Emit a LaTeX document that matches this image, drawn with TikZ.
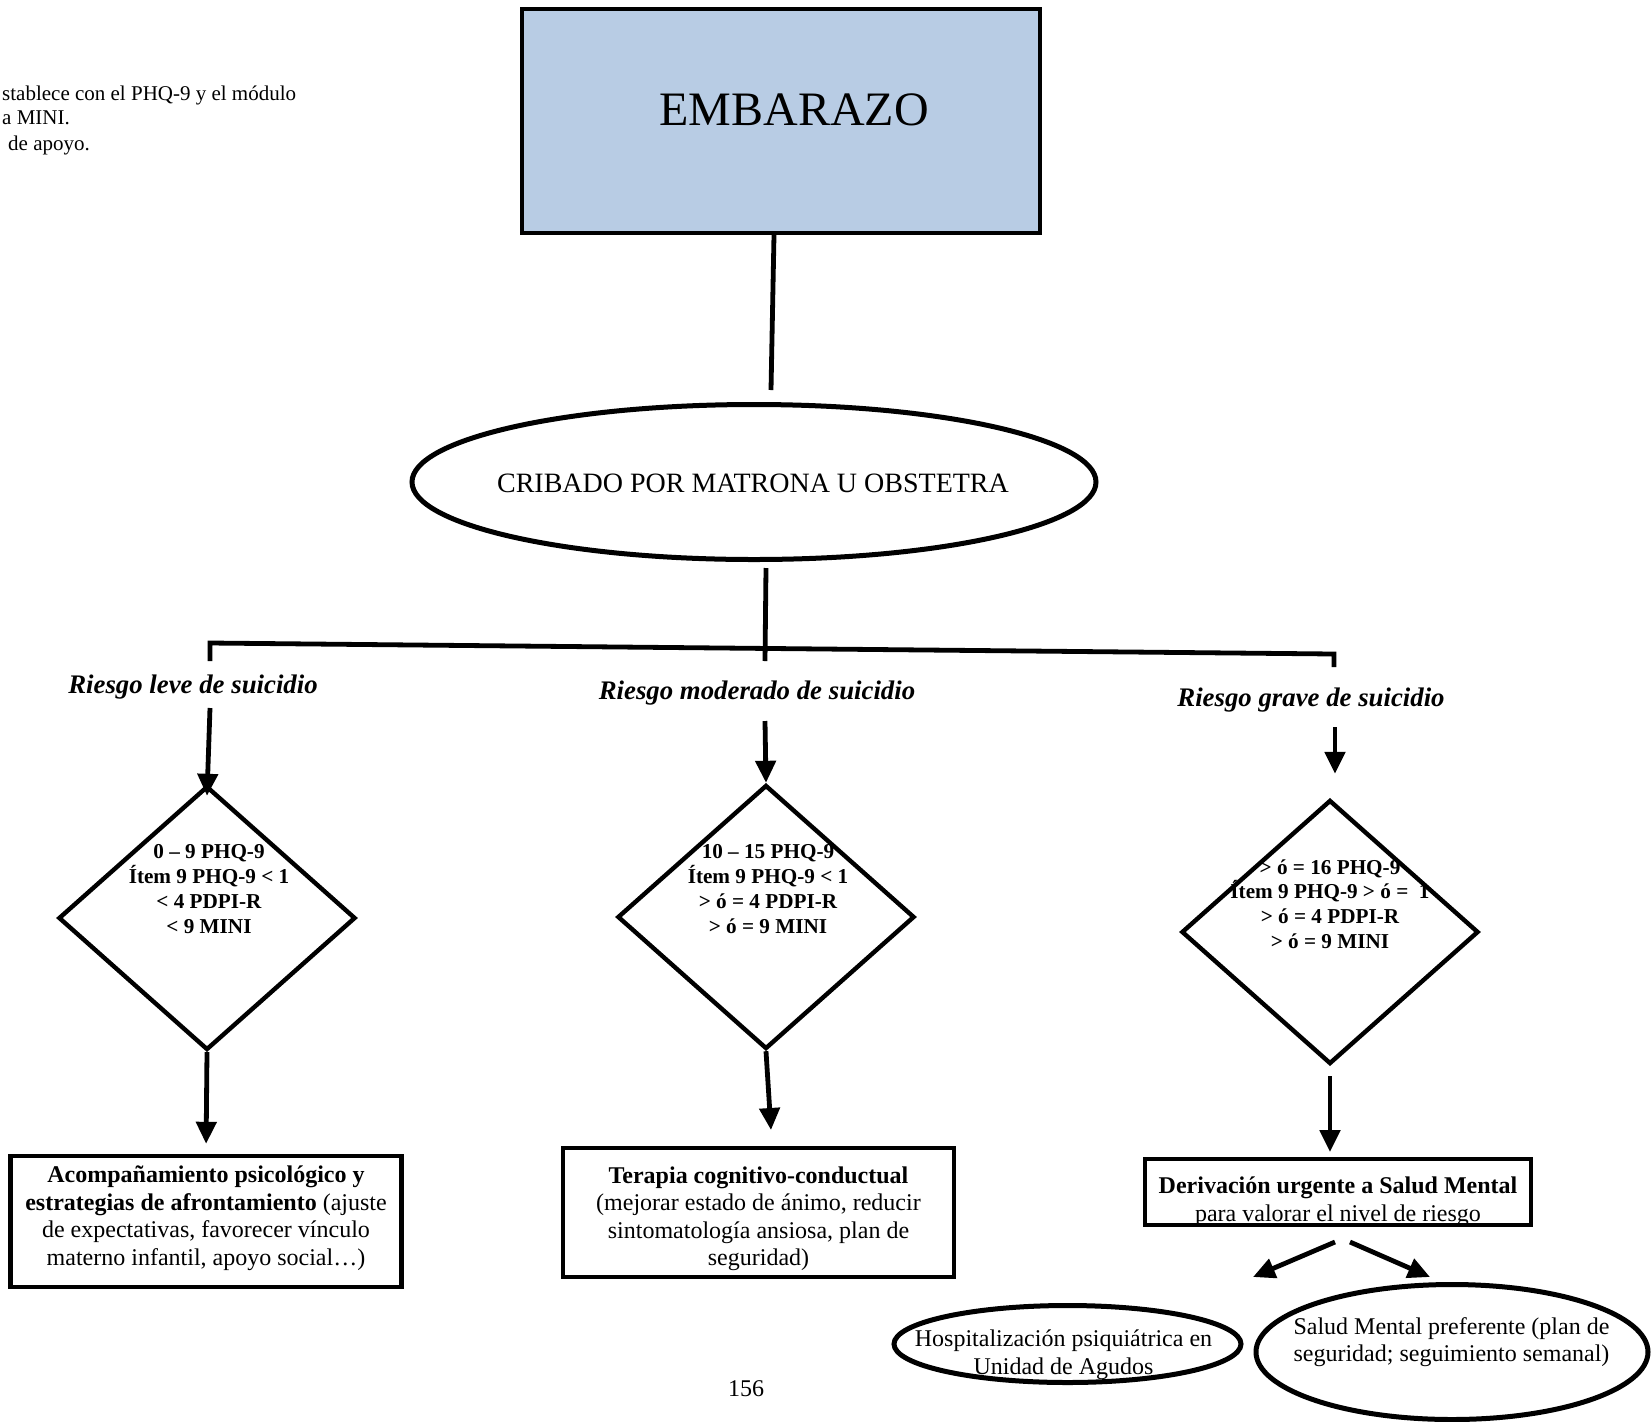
\documentclass[tikz,border=0pt]{standalone}
\usepackage{fontspec}
\setmainfont{Liberation Serif}
\usetikzlibrary{shapes.geometric,arrows.meta}
\definecolor{embblue}{HTML}{B8CCE4}
\begin{document}
\begin{tikzpicture}[x={(0.5pt,0)},y={(0,-0.5pt)},
  line width=2.2pt,
  conn/.style={line width=2.4pt},
  arr/.style={conn,-{Triangle[length=11pt,width=10pt]}},
  box/.style={draw,rectangle,inner sep=0pt,align=center},
  txt/.style={font=\fontsize{12}{13.8}\selectfont,align=center,inner sep=0pt},
  small/.style={font=\fontsize{10.5}{12.5}\selectfont,inner sep=0pt},
  crit/.style={font=\bfseries\fontsize{10.6}{12.4}\selectfont,align=center,inner sep=0pt},
  rlab/.style={font=\bfseries\itshape\fontsize{13.4}{15}\selectfont,inner sep=0pt},
  dia/.style={draw,diamond,inner sep=0pt,minimum width=148.5pt,minimum height=132pt},
  ell/.style={draw,ellipse,inner sep=0pt,line width=2.5pt}]
\useasboundingbox (0,0) rectangle (1651,1421);

% top-left cut text
\node[small,anchor=base west] (n1) at (0,100) {stablece con el PHQ-9 y el módulo};
\node[small,anchor=base west] (n2) at (0,124) {a MINI.};
\node[small,anchor=base west] (n3) at (6,150) {de apoyo.};

% EMBARAZO
\node[box,fill=embblue,minimum width=259pt,minimum height=111.75pt] (emb) at (781,121) {};
\node[font=\fontsize{24}{28}\selectfont,inner sep=0pt] (embt) at (794,110) {EMBARAZO};

% Cribado
\node[ell,minimum width=342pt,minimum height=77.5pt] (crib) at (754,482) {};
\node[font=\fontsize{14}{16}\selectfont,inner sep=0pt] (cribt) at (753,483) {CRIBADO POR MATRONA U OBSTETRA};

\coordinate (c0) at (771,390);
\draw[conn] ([xshift=-3.5pt]emb.south) -- (c0);

% bar
\coordinate (b0) at (765,661);
\draw[conn] ([xshift=6pt,yshift=-3pt]crib.south) -- (b0);
\coordinate (bl0) at (210,661);
\coordinate (bl) at (210,643);
\coordinate (br) at (1334,654);
\coordinate (br0) at (1334,667);
\draw[conn] (bl0) -- (bl) -- (br) -- (br0);

% labels
\node[rlab] (l1) at (193,687) {Riesgo leve de suicidio};
\node[rlab] (l2) at (757,693) {Riesgo moderado de suicidio};
\node[rlab] (l3) at (1311,700) {Riesgo grave de suicidio};

% diamonds
\node[dia] (d1) at (207,918) {};
\node[dia] (d2) at (766,917) {};
\node[dia] (d3) at (1330,932) {};
\node[crit] (d1t) at (209,889) {0 – 9 PHQ-9\\Ítem 9 PHQ-9 < 1\\< 4 PDPI-R\\< 9 MINI};
\node[crit] (d2t) at (768,889) {10 – 15 PHQ-9\\Ítem 9 PHQ-9 < 1\\> ó = 4 PDPI-R\\> ó = 9 MINI};
\node[crit] (d3t) at (1330,904) {> ó = 16 PHQ-9\\Ítem 9 PHQ-9 > ó =~ 1\\> ó = 4 PDPI-R\\> ó = 9 MINI};

\coordinate (a1) at (210,708);
\coordinate (a2) at (765,721);
\coordinate (a3) at (1335,727);
\draw[arr] (a1) -- ([yshift=-6pt]d1.north);
\draw[arr] (a2) -- (d2.north);
\draw[arr,shorten >=12pt] (a3) -- (a3 |- d3.north);

% boxes
\node[txt] (b1t) at (206,1218.3)
  {\textbf{Acompañamiento psicológico y}\\\textbf{estrategias de afrontamiento} (ajuste\\de expectativas, favorecer vínculo\\materno infantil, apoyo social…)};
\node[box,minimum width=195.5pt,minimum height=65.5pt] (box1) at (206,1221.5) {};
\node[txt] (b2t) at (758.5,1218.8)
  {\textbf{Terapia cognitivo-conductual}\\(mejorar estado de ánimo, reducir\\sintomatología ansiosa, plan de\\seguridad)};
\node[box,minimum width=195.5pt,minimum height=64.5pt] (box2) at (758.5,1212.5) {};
\node[txt] (b3t) at (1338,1201.6) {\textbf{Derivación urgente a Salud Mental}\\para valorar el nivel de riesgo};
\node[box,minimum width=193pt,minimum height=32.75pt] (box3) at (1338,1192) {};

\coordinate (m2) at (771,1130);
\draw[arr,shorten >=5pt] (d1.south) -- (box1.north);
\draw[arr] (d2.south) -- (m2);
\draw[arr,shorten <=5pt,shorten >=2.5pt] (d3.south) -- (d3.south |- box3.north);

% lower branch
\coordinate (s1) at (1335,1242);
\coordinate (e1) at (1253,1277);
\coordinate (s2) at (1350,1242);
\coordinate (e2) at (1430,1277);
\draw[arr] (s1) -- (e1);
\draw[arr] (s2) -- (e2);

\node[txt] (hospt) at (1063.5,1355) {Hospitalización psiquiátrica en\\Unidad de Agudos};
\node[ell,minimum width=173.5pt,minimum height=38.5pt] (hosp) at (1067.5,1344) {};
\node[ell,minimum width=196pt,minimum height=67.5pt] (salud) at (1452,1352) {};
\node[txt] (saludt) at (1451.5,1342) {Salud Mental preferente (plan de\\seguridad; seguimiento semanal)};

\node[txt] (pg) at (746,1389) {156};
\end{tikzpicture}
\end{document}
